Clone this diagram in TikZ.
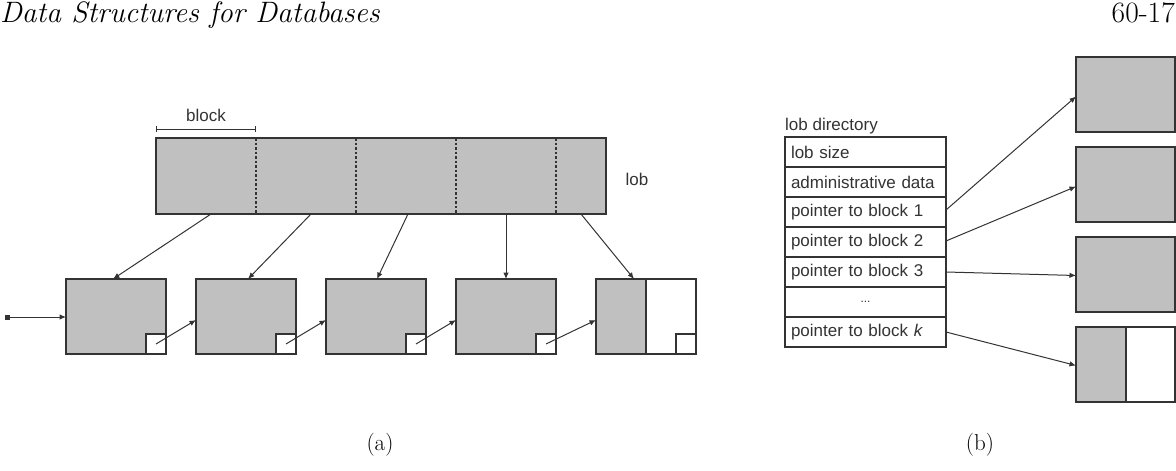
\documentclass[tikz,border=0pt]{standalone}
\usepackage{fontspec}
\newfontfamily\arialfont{Liberation Sans}
\usetikzlibrary{arrows.meta,calc}
\definecolor{blockgray}{HTML}{C0C0C0}
\definecolor{linegray}{HTML}{333333}
\tikzset{
  ln/.style={draw=linegray, line width=1.1pt},
  blk/.style={ln, fill=blockgray, rectangle, minimum width=100pt, minimum height=75pt, inner sep=0pt, outer sep=0pt},
  wbox/.style={ln, fill=white, rectangle, minimum width=20pt, minimum height=20pt, inner sep=0pt, outer sep=0pt},
  arr/.style={draw=linegray, line width=1pt, -{Latex[length=6.5pt,width=5.5pt]}},
  lbl/.style={font=\arialfont\fontsize{17}{20}\selectfont, text=black!80, inner sep=0pt},
  row/.style={ln, fill=white, rectangle, minimum width=161pt, minimum height=30pt, inner sep=0pt, outer sep=0pt, text width=149pt, align=left, font=\arialfont\fontsize{17}{20}\selectfont, text=black!80},
  captext/.style={font=\fontsize{23}{27}\selectfont, inner sep=0pt},
  hdrtext/.style={font=\fontsize{29.5}{33}\selectfont, inner sep=0pt}
}
\begin{document}
\begin{tikzpicture}[x=1pt,y=-1pt]
\useasboundingbox (0,0) rectangle (1176,471);
% header
\node[hdrtext, anchor=base west, font=\fontsize{29.5}{33}\selectfont\itshape] (hdr) at (0,22.5) {Data Structures for Databases};
\node[hdrtext, anchor=base east] (pg) at (1175,22.5) {60-17};

% ---------- (a) ----------
\node[blk, minimum width=450pt, minimum height=76pt] (lob) at (381,176) {};
\foreach \i in {1,2,3,4}{
  \draw[draw=linegray, line width=1.1pt, dash pattern=on 2.5pt off 2pt] ($(lob.north west)+(100*\i,0)$) -- ($(lob.south west)+(100*\i,0)$);
}
\node[lbl] (loblbl) at (637,179) {lob};
\coordinate (bl) at (156,129);
\coordinate (br) at (256,129);
\draw[draw=linegray, line width=1pt, {Bar[width=6pt]}-{Bar[width=6pt]}] (bl) -- (br);
\node[lbl] (blocklbl) at (206,115) {block};

\node[blk] (b1) at (116,316.5) {};
\node[blk] (b2) at (246,316.5) {};
\node[blk] (b3) at (376,316.5) {};
\node[blk] (b4) at (506,316.5) {};
\node[blk, minimum width=50pt] (b5) at (621,316.5) {};
\node[ln, fill=white, rectangle, minimum width=50pt, minimum height=75pt, inner sep=0pt, outer sep=0pt] (b5w) at (671,316.5) {};
\node[wbox, anchor=south east] (s1) at (b1.south east) {};
\node[wbox, anchor=south east] (s2) at (b2.south east) {};
\node[wbox, anchor=south east] (s3) at (b3.south east) {};
\node[wbox, anchor=south east] (s4) at (b4.south east) {};
\node[wbox, anchor=south east] (s5) at (b5w.south east) {};

\draw[arr] ($(lob.south west)+(55,0)$) -- ($(b1.north west)+(47,0)$);
\draw[arr] ($(lob.south west)+(155,0)$) -- ($(b2.north west)+(52,0)$);
\draw[arr] ($(lob.south west)+(252,0)$) -- ($(b3.north west)+(51,0)$);
\draw[arr] ($(lob.south west)+(350,0)$) -- ($(b4.north west)+(50,0)$);
\draw[arr] ($(lob.south west)+(425,0)$) -- ($(b5.north west)+(38,0)$);

\node[fill=linegray, minimum size=5pt, inner sep=0pt] (start) at (7,317) {};
\draw[arr] (start) -- (b1.west |- start);
\draw[arr] (s1.center) -- ($(b2.north west)+(0,41)$);
\draw[arr] (s2.center) -- ($(b3.north west)+(0,41)$);
\draw[arr] (s3.center) -- ($(b4.north west)+(0,41)$);
\draw[arr] (s4.center) -- ($(b5.north west)+(0,41)$);

\node[captext] (capa) at (380,445) {(a)};

% ---------- (b) ----------
\node[lbl, anchor=base west] (dirlbl) at (785,130) {lob directory};
\node[row, anchor=north west] (r1) at (785,137) {lob size};
\node[row, anchor=north] (r2) at (r1.south) {administrative data};
\node[row, anchor=north] (r3) at (r2.south) {pointer to block 1};
\node[row, anchor=north] (r4) at (r3.south) {pointer to block 2};
\node[row, anchor=north] (r5) at (r4.south) {pointer to block 3};
\node[row, anchor=north, align=center] (r6) at (r5.south) {\fontsize{12}{14}\selectfont ...};
\node[row, anchor=north] (r7) at (r6.south) {pointer to block \textit{k}};

\node[blk, minimum width=99pt] (c1) at (1125.5,94.5) {};
\node[blk, minimum width=99pt] (c2) at (1125.5,184.5) {};
\node[blk, minimum width=99pt] (c3) at (1125.5,274.5) {};
\node[blk, minimum width=50pt] (c4) at (1101,364.5) {};
\node[ln, fill=white, rectangle, minimum width=49pt, minimum height=75pt, inner sep=0pt, outer sep=0pt] (c4w) at (1150.5,364.5) {};

\draw[arr] ($(r3.east)+(0,-2)$) -- ($(c1.west)+(0,2)$);
\draw[arr] ($(r4.east)+(0,-1)$) -- ($(c2.west)+(0,2)$);
\draw[arr] (r5.east) -- ($(c3.west)+(0,1)$);
\draw[arr] (r7.east) -- ($(c4.west)+(0,1)$);

\node[captext] (capb) at (980,445) {(b)};
\end{tikzpicture}
\end{document}
